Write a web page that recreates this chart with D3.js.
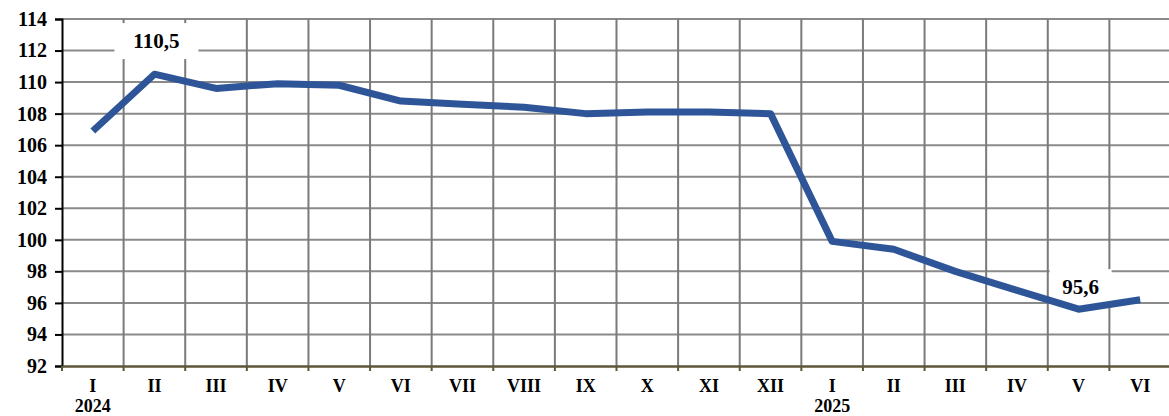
<!DOCTYPE html>
<html>
<head>
<meta charset="utf-8">
<script src="https://cdn.jsdelivr.net/npm/d3@7"></script>
<style>
    body { margin: 0; background: #fff; }
    .tick-label { font-family: "Liberation Serif", "Times New Roman", serif; font-weight: bold; fill: #000; }
</style>
</head>
<body>
<div id="chart"></div>
<script>
// Months, values and labels
const months = ["I", "II", "III", "IV", "V", "VI", "VII", "VIII", "IX", "X", "XI", "XII",
                "I", "II", "III", "IV", "V", "VI"];
const values = [106.9, 110.5, 109.6, 109.9, 109.8, 108.8, 108.6, 108.4, 108.0, 108.1, 108.1, 108.0,
                99.9, 99.4, 98.0, 96.8, 95.6, 96.2];
const yearLabels = [{ index: 0, text: "2024" }, { index: 12, text: "2025" }];
const yTicks = [92, 94, 96, 98, 100, 102, 104, 106, 108, 110, 112, 114];
const valueLabels = [
    { index: 1, text: "110,5", at: 112.6, box: 84 },
    { index: 16, text: "95,6", at: 97.0, box: 62 }
];

const width = 1169;
const height = 416;
const margin = { top: 19, right: -2, bottom: 50, left: 62 };

const svg = d3.select("#chart")
    .append("svg")
    .attr("width", width)
    .attr("height", height);

const keys = months.map((m, i) => i);

const x = d3.scaleBand()
    .domain(keys)
    .range([margin.left, width - margin.right])
    .paddingInner(0)
    .paddingOuter(0);

const y = d3.scaleLinear()
    .domain([92, 114])
    .range([height - margin.bottom, margin.top]);

// Horizontal gridlines
svg.append("g")
    .selectAll("line")
    .data(yTicks.slice(1))
    .enter()
    .append("line")
    .attr("x1", margin.left)
    .attr("x2", width)
    .attr("y1", d => y(d))
    .attr("y2", d => y(d))
    .attr("stroke", "#8a8a8a")
    .attr("stroke-width", 2);

// Vertical gridlines at band boundaries
svg.append("g")
    .selectAll("line")
    .data(keys.slice(1))
    .enter()
    .append("line")
    .attr("x1", d => x(d))
    .attr("x2", d => x(d))
    .attr("y1", y(114))
    .attr("y2", y(92))
    .attr("stroke", "#7a7a7a")
    .attr("stroke-width", 2);

// Y axis
const yAxis = svg.append("g")
    .attr("transform", `translate(${margin.left}, 0)`)
    .call(d3.axisLeft(y).tickValues(yTicks).tickSize(7).tickPadding(8).tickFormat(d3.format("d")));
yAxis.select(".domain").attr("stroke", "#000").attr("stroke-width", 2);
yAxis.selectAll(".tick line").attr("stroke", "#000").attr("stroke-width", 2);
yAxis.selectAll("text")
    .attr("class", "tick-label")
    .style("font-size", "20px");

// X axis
const xAxis = svg.append("g")
    .attr("transform", `translate(0, ${y(92)})`)
    .call(d3.axisBottom(x).tickSize(0).tickPadding(13).tickFormat(i => months[i]));
xAxis.select(".domain").attr("stroke", "#5e5638").attr("stroke-width", 2.5);
xAxis.selectAll("text")
    .attr("class", "tick-label")
    .style("font-size", "18px");

// Small downward ticks on the x axis at band boundaries
svg.append("g")
    .selectAll("line")
    .data(keys)
    .enter()
    .append("line")
    .attr("x1", d => x(d))
    .attr("x2", d => x(d))
    .attr("y1", y(92))
    .attr("y2", y(92) + 5)
    .attr("stroke", "#5e5638")
    .attr("stroke-width", 2);

// Year labels
svg.append("g")
    .selectAll("text")
    .data(yearLabels)
    .enter()
    .append("text")
    .attr("class", "tick-label")
    .attr("x", d => x(d.index) + x.bandwidth() / 2)
    .attr("y", height - 4)
    .attr("text-anchor", "middle")
    .style("font-size", "18px")
    .text(d => d.text);

// Value label boxes (drawn under the line)
const labels = svg.append("g")
    .selectAll("g")
    .data(valueLabels)
    .enter()
    .append("g")
    .attr("transform", d => `translate(${x(d.index) + x.bandwidth() / 2 + 2}, ${y(d.at)})`);

labels.append("rect")
    .attr("x", d => -d.box / 2)
    .attr("y", -18)
    .attr("width", d => d.box)
    .attr("height", 36)
    .attr("fill", "#fff");

labels.append("text")
    .attr("class", "tick-label")
    .attr("text-anchor", "middle")
    .attr("dy", "0.35em")
    .style("font-size", "21px")
    .text(d => d.text);

// Line
const line = d3.line()
    .x((d, i) => x(i) + x.bandwidth() / 2)
    .y(d => y(d));

svg.append("path")
    .datum(values)
    .attr("fill", "none")
    .attr("stroke", "#2e5597")
    .attr("stroke-width", 7)
    .attr("stroke-linejoin", "round")
    .attr("d", line);
</script>
</body>
</html>
